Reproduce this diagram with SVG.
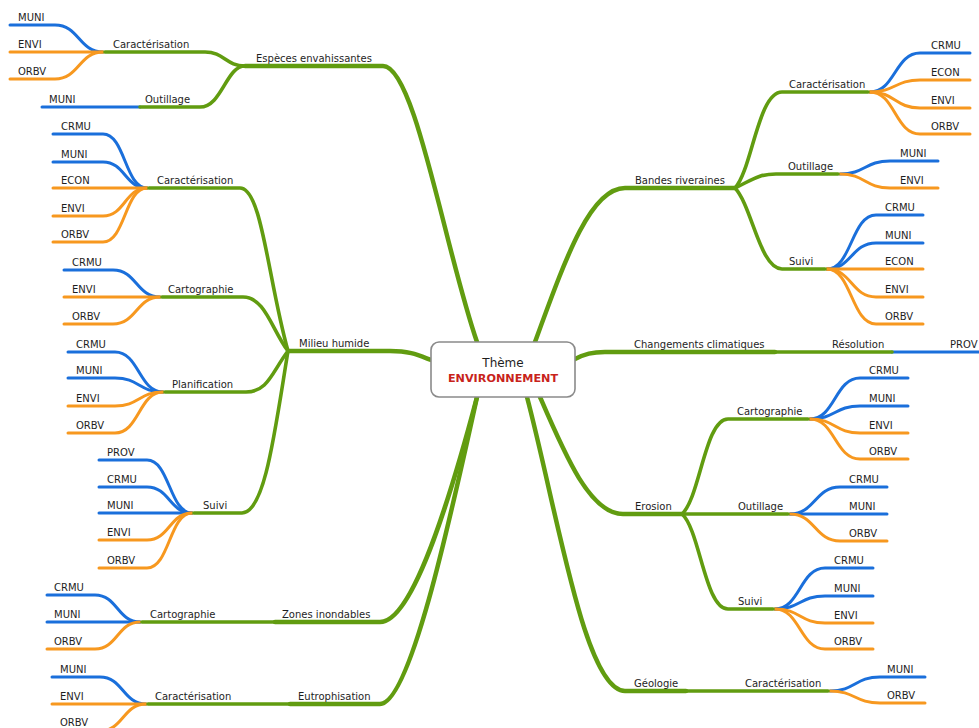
<svg xmlns="http://www.w3.org/2000/svg" width="979" height="728" viewBox="0 0 979 728">
<style>
  .c path { fill: none; stroke-linecap: round; stroke-linejoin: round; }
  .m { stroke: #619c10; stroke-width: 4.5; }
  .s { stroke: #619c10; stroke-width: 3.6; }
  .b { stroke: #1a6fdb; stroke-width: 3; }
  .o { stroke: #f7981f; stroke-width: 3; }
  text { font-family: "DejaVu Sans", "Liberation Sans", sans-serif; font-size: 10px; fill: #1e1e1e; }
  .root-box { fill: #ffffff; stroke: #8a8a8a; stroke-width: 1.6; }
  .t1 { font-size: 12px; text-anchor: middle; }
  .t2 { font-size: 11.2px; font-weight: bold; fill: #c8231b; text-anchor: middle; }
</style>

<g id="connectors" class="c">
  <!-- Espèces envahissantes -->
  <path class="b" d="M10 25 L55 25 C79 25 79 52 103 52"/>
  <path class="o" d="M10 52 L103 52"/>
  <path class="o" d="M10 79 L55 79 C79 79 79 52 103 52"/>
  <path class="b" d="M42 107 L140 107"/>
  <path class="s" d="M245 66 C226 66 224 52 205 52 L105 52"/>
  <path class="s" d="M245 66 C226 66 222 107 200 107 L140 107"/>
  <path class="m" d="M477 342 C445 250 415 66 383 66 L245 66"/>

  <!-- Milieu humide -->
  <path class="b" d="M53 134 L103 134 C125 134 125 188 147 188"/>
  <path class="b" d="M53 162 L103 162 C125 162 125 188 147 188"/>
  <path class="o" d="M53 188 L147 188"/>
  <path class="o" d="M53 216 L103 216 C125 216 125 188 147 188"/>
  <path class="o" d="M53 242 L103 242 C125 242 125 188 147 188"/>
  <path class="b" d="M64 270 L113 270 C136.5 270 136.5 297 160 297"/>
  <path class="o" d="M64 297 L160 297"/>
  <path class="o" d="M64 324 L113 324 C136.5 324 136.5 297 160 297"/>
  <path class="b" d="M68 352 L115 352 C139 352 139 392 163 392"/>
  <path class="b" d="M68 378 L115 378 C139 378 139 392 163 392"/>
  <path class="o" d="M68 406 L115 406 C139 406 139 392 163 392"/>
  <path class="o" d="M68 433 L115 433 C139 433 139 392 163 392"/>
  <path class="b" d="M99 460 L147 460 C169.5 460 169.5 513 192 513"/>
  <path class="b" d="M99 487 L147 487 C169.5 487 169.5 513 192 513"/>
  <path class="b" d="M99 513 L192 513"/>
  <path class="o" d="M99 540 L147 540 C169.5 540 169.5 513 192 513"/>
  <path class="o" d="M99 568 L147 568 C169.5 568 169.5 513 192 513"/>
  <path class="s" d="M288 351 C268 280 262 188 240 188 L149 188"/>
  <path class="s" d="M288 351 C272 330 265 297 243 297 L162 297"/>
  <path class="s" d="M288 351 C272 372 268 392 246 392 L165 392"/>
  <path class="s" d="M288 351 C275 430 265 513 242 513 L194 513"/>
  <path class="m" d="M431 360 C418 355 410 351 390 351 L288 351"/>

  <!-- Zones inondables -->
  <path class="b" d="M47 595 L95 595 C117.5 595 117.5 622 140 622"/>
  <path class="b" d="M47 622 L140 622"/>
  <path class="o" d="M47 649 L95 649 C117.5 649 117.5 622 140 622"/>
  <path class="s" d="M275 622 L142 622"/>
  <path class="m" d="M477 397 C455 480 415 622 380 622 L275 622"/>

  <!-- Eutrophisation -->
  <path class="b" d="M52 677 L100 677 C123 677 123 704 146 704"/>
  <path class="o" d="M52 704 L146 704"/>
  <path class="o" d="M52 731 L100 731 C123 731 123 704 146 704"/>
  <path class="s" d="M290 704 L148 704"/>
  <path class="m" d="M477 397 C450 520 410 704 380 704 L290 704"/>

  <!-- Bandes riveraines -->
  <path class="b" d="M870 92 C895 92 895 53 920 53 L970 53"/>
  <path class="o" d="M870 92 C895 92 895 80 920 80 L970 80"/>
  <path class="o" d="M870 92 C895 92 895 108 920 108 L970 108"/>
  <path class="o" d="M870 92 C895 92 895 134 920 134 L970 134"/>
  <path class="b" d="M840 174 C865 174 865 161 890 161 L938 161"/>
  <path class="o" d="M840 174 C865 174 865 188 890 188 L938 188"/>
  <path class="b" d="M827 269 C851.5 269 851.5 215 876 215 L923 215"/>
  <path class="b" d="M827 269 C851.5 269 851.5 243 876 243 L923 243"/>
  <path class="o" d="M827 269 L923 269"/>
  <path class="o" d="M827 269 C851.5 269 851.5 297 876 297 L923 297"/>
  <path class="o" d="M827 269 C851.5 269 851.5 324 876 324 L923 324"/>
  <path class="s" d="M735 188 C752 170 758 92 782 92 L868 92"/>
  <path class="s" d="M735 188 C752 180 758 174 776 174 L838 174"/>
  <path class="s" d="M735 188 C752 206 760 269 782 269 L825 269"/>
  <path class="m" d="M535 342 C565 260 590 188 625 188 L735 188"/>

  <!-- Changements climatiques -->
  <path class="b" d="M892 352 L985 352"/>
  <path class="s" d="M775 352 L892 352"/>
  <path class="m" d="M575 359 C585 354 592 352 605 352 L775 352"/>

  <!-- Erosion -->
  <path class="b" d="M810 419 C835 419 835 378 860 378 L908 378"/>
  <path class="b" d="M810 419 C835 419 835 406 860 406 L908 406"/>
  <path class="o" d="M810 419 C835 419 835 433 860 433 L908 433"/>
  <path class="o" d="M810 419 C835 419 835 459 860 459 L908 459"/>
  <path class="b" d="M790 514 C815 514 815 487 840 487 L887 487"/>
  <path class="b" d="M790 514 L887 514"/>
  <path class="o" d="M790 514 C815 514 815 541 840 541 L887 541"/>
  <path class="b" d="M775 609 C800 609 800 568 825 568 L873 568"/>
  <path class="b" d="M775 609 C800 609 800 596 825 596 L873 596"/>
  <path class="o" d="M775 609 C800 609 800 623 825 623 L873 623"/>
  <path class="o" d="M775 609 C800 609 800 649 825 649 L873 649"/>
  <path class="s" d="M682 514 C700 498 705 419 728 419 L808 419"/>
  <path class="s" d="M682 514 L788 514"/>
  <path class="s" d="M682 514 C700 530 705 609 728 609 L773 609"/>
  <path class="m" d="M540 397 C565 455 590 514 623 514 L682 514"/>

  <!-- Géologie -->
  <path class="b" d="M830 691 C855 691 855 677 880 677 L925 677"/>
  <path class="o" d="M830 691 C855 691 855 703 880 703 L925 703"/>
  <path class="s" d="M686 691 L828 691"/>
  <path class="m" d="M527 397 C558 515 585 691 625 691 L686 691"/>
</g>

<g id="root">
  <rect class="root-box" x="431" y="342" width="144" height="55" rx="8"/>
  <text class="t1" x="503" y="367">Thème</text>
  <text class="t2" x="503" y="382">ENVIRONNEMENT</text>
</g>

<!-- Espèces envahissantes -->
<g id="n-especes"><text x="256" y="62">Espèces envahissantes</text></g>
<g id="n-esp-caract"><text x="113" y="48">Caractérisation</text></g>
<g id="n-esp-caract-muni"><text x="18" y="21">MUNI</text></g>
<g id="n-esp-caract-envi"><text x="18" y="48">ENVI</text></g>
<g id="n-esp-caract-orbv"><text x="18" y="75">ORBV</text></g>
<g id="n-esp-outil"><text x="145" y="103">Outillage</text></g>
<g id="n-esp-outil-muni"><text x="49" y="103">MUNI</text></g>

<!-- Milieu humide -->
<g id="n-milieu"><text x="299" y="347">Milieu humide</text></g>
<g id="n-mil-caract"><text x="157" y="184">Caractérisation</text></g>
<g id="n-mil-caract-crmu"><text x="61" y="130">CRMU</text></g>
<g id="n-mil-caract-muni"><text x="61" y="158">MUNI</text></g>
<g id="n-mil-caract-econ"><text x="61" y="184">ECON</text></g>
<g id="n-mil-caract-envi"><text x="61" y="212">ENVI</text></g>
<g id="n-mil-caract-orbv"><text x="61" y="238">ORBV</text></g>
<g id="n-mil-carto"><text x="168" y="293">Cartographie</text></g>
<g id="n-mil-carto-crmu"><text x="72" y="266">CRMU</text></g>
<g id="n-mil-carto-envi"><text x="72" y="293">ENVI</text></g>
<g id="n-mil-carto-orbv"><text x="72" y="320">ORBV</text></g>
<g id="n-mil-planif"><text x="172" y="388">Planification</text></g>
<g id="n-mil-planif-crmu"><text x="76" y="348">CRMU</text></g>
<g id="n-mil-planif-muni"><text x="76" y="374">MUNI</text></g>
<g id="n-mil-planif-envi"><text x="76" y="402">ENVI</text></g>
<g id="n-mil-planif-orbv"><text x="76" y="429">ORBV</text></g>
<g id="n-mil-suivi"><text x="203" y="509">Suivi</text></g>
<g id="n-mil-suivi-prov"><text x="107" y="456">PROV</text></g>
<g id="n-mil-suivi-crmu"><text x="107" y="483">CRMU</text></g>
<g id="n-mil-suivi-muni"><text x="107" y="509">MUNI</text></g>
<g id="n-mil-suivi-envi"><text x="107" y="536">ENVI</text></g>
<g id="n-mil-suivi-orbv"><text x="107" y="564">ORBV</text></g>

<!-- Zones inondables -->
<g id="n-zones"><text x="282" y="618">Zones inondables</text></g>
<g id="n-zon-carto"><text x="150" y="618">Cartographie</text></g>
<g id="n-zon-carto-crmu"><text x="54" y="591">CRMU</text></g>
<g id="n-zon-carto-muni"><text x="54" y="618">MUNI</text></g>
<g id="n-zon-carto-orbv"><text x="54" y="645">ORBV</text></g>

<!-- Eutrophisation -->
<g id="n-eutro"><text x="298" y="700">Eutrophisation</text></g>
<g id="n-eut-caract"><text x="155" y="700">Caractérisation</text></g>
<g id="n-eut-caract-muni"><text x="60" y="673">MUNI</text></g>
<g id="n-eut-caract-envi"><text x="60" y="700">ENVI</text></g>
<g id="n-eut-caract-orbv"><text x="60" y="726">ORBV</text></g>

<!-- Bandes riveraines -->
<g id="n-bandes"><text x="635" y="184">Bandes riveraines</text></g>
<g id="n-ban-caract"><text x="789" y="88">Caractérisation</text></g>
<g id="n-ban-caract-crmu"><text x="931" y="49">CRMU</text></g>
<g id="n-ban-caract-econ"><text x="931" y="76">ECON</text></g>
<g id="n-ban-caract-envi"><text x="931" y="104">ENVI</text></g>
<g id="n-ban-caract-orbv"><text x="931" y="130">ORBV</text></g>
<g id="n-ban-outil"><text x="788" y="170">Outillage</text></g>
<g id="n-ban-outil-muni"><text x="900" y="157">MUNI</text></g>
<g id="n-ban-outil-envi"><text x="900" y="184">ENVI</text></g>
<g id="n-ban-suivi"><text x="789" y="265">Suivi</text></g>
<g id="n-ban-suivi-crmu"><text x="885" y="211">CRMU</text></g>
<g id="n-ban-suivi-muni"><text x="885" y="239">MUNI</text></g>
<g id="n-ban-suivi-econ"><text x="885" y="265">ECON</text></g>
<g id="n-ban-suivi-envi"><text x="885" y="293">ENVI</text></g>
<g id="n-ban-suivi-orbv"><text x="885" y="320">ORBV</text></g>

<!-- Changements climatiques -->
<g id="n-changements"><text x="634" y="348">Changements climatiques</text></g>
<g id="n-cha-resol"><text x="832" y="348">Résolution</text></g>
<g id="n-cha-resol-prov"><text x="950" y="348">PROV</text></g>

<!-- Erosion -->
<g id="n-erosion"><text x="635" y="510">Erosion</text></g>
<g id="n-ero-carto"><text x="737" y="415">Cartographie</text></g>
<g id="n-ero-carto-crmu"><text x="869" y="374">CRMU</text></g>
<g id="n-ero-carto-muni"><text x="869" y="402">MUNI</text></g>
<g id="n-ero-carto-envi"><text x="869" y="429">ENVI</text></g>
<g id="n-ero-carto-orbv"><text x="869" y="455">ORBV</text></g>
<g id="n-ero-outil"><text x="738" y="510">Outillage</text></g>
<g id="n-ero-outil-crmu"><text x="849" y="483">CRMU</text></g>
<g id="n-ero-outil-muni"><text x="849" y="510">MUNI</text></g>
<g id="n-ero-outil-orbv"><text x="849" y="537">ORBV</text></g>
<g id="n-ero-suivi"><text x="738" y="605">Suivi</text></g>
<g id="n-ero-suivi-crmu"><text x="834" y="564">CRMU</text></g>
<g id="n-ero-suivi-muni"><text x="834" y="592">MUNI</text></g>
<g id="n-ero-suivi-envi"><text x="834" y="619">ENVI</text></g>
<g id="n-ero-suivi-orbv"><text x="834" y="645">ORBV</text></g>

<!-- Géologie -->
<g id="n-geologie"><text x="634" y="687">Géologie</text></g>
<g id="n-geo-caract"><text x="745" y="687">Caractérisation</text></g>
<g id="n-geo-caract-muni"><text x="887" y="673">MUNI</text></g>
<g id="n-geo-caract-orbv"><text x="887" y="699">ORBV</text></g>
</svg>
